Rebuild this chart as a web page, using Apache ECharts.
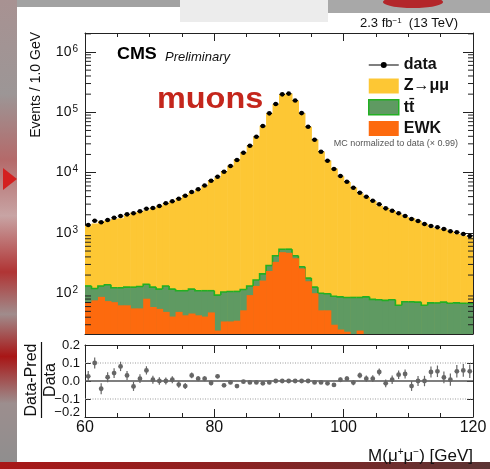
<!DOCTYPE html>
<html>
<head>
<meta charset="utf-8">
<script src="https://cdn.jsdelivr.net/npm/echarts@6/dist/echarts.min.js"></script>
<style>
  html, body { margin: 0; padding: 0; background: #fff; }
  #chart { width: 490px; height: 469px; }
</style>
</head>
<body>
<div id="chart"></div>
<script>
// Dimuon invariant mass spectrum, 1 GeV bins between 60 and 120 GeV
const binLow = [60,61,62,63,64,65,66,67,68,69,70,71,72,73,74,75,76,77,78,79,
                80,81,82,83,84,85,86,87,88,89,90,91,92,93,94,95,96,97,98,99,
                100,101,102,103,104,105,106,107,108,109,110,111,112,113,114,115,116,117,118,119];
const BIN_WIDTH = 1;

// observed events per bin
const dataCounts = [1352,1592,1500,1637,1786,1905,2032,2113,2280,2518,
                    2588,2793,3097,3342,3690,4140,4764,5284,6109,7345,
                    8551,10350,12850,16180,21380,27930,39360,59290,96160,137400,
                    198600,204200,156700,97050,57540,35080,22230,15740,11480,8790,
                    7063,5623,4645,3981,3420,2979,2553,2333,2113,1910,
                    1702,1578,1406,1300,1239,1161,1064,1023,959,889];

// simulated contributions (already scaled by the MC normalisation)
const zmumu = [1185,1313,1433,1465,1584,1628,1843,2050,2121,2228,
               2444,2676,2965,3202,3654,4146,4499,5105,5920,7316,
               8236,10490,12850,16530,21350,28020,39510,59850,96640,136980,
               198060,203660,156280,96780,57360,35240,22310,15850,11640,8640,
               6886,5589,4416,3842,3297,2752,2510,2239,1976,1764,
               1678,1507,1343,1166,1103,1067,989,899,834,773];
const ttbar = [63,44,45,64,52,60,63,70,73,60,
               67,62,83,76,61,67,71,67,69,62,
               69,71,73,72,63,39,34,47,54,86,
               58,69,37,18,20,26,48,46,59,62,
               62,70,61,87,79,78,76,78,63,72,
               72,71,63,69,69,71,68,69,68,68];
const ewk = [69,76,87,74,71,63,63,56,56,81,
             59,55,49,41,49,43,46,43,41,48,
             24,34,34,35,52,93,132,162,234,331,
             479,468,380,257,158,100,52,52,30,25,
             23,15,24,0,0,0,0,0,0,0,
             0,0,0,0,0,0,0,0,0,0];

// (Data - Pred) / Data and its uncertainty
const ratio = [0.026,0.100,-0.043,0.021,0.044,0.081,0.031,-0.030,0.013,0.059,
               0.007,0.000,0.000,0.007,-0.020,-0.028,0.031,0.013,0.013,-0.011,
               0.026,-0.024,-0.008,-0.028,-0.004,-0.008,-0.008,-0.013,-0.008,0.000,
               0.000,0.000,0.000,0.000,0.000,-0.008,-0.008,-0.013,-0.022,0.007,
               0.013,-0.009,0.031,0.013,0.013,0.050,-0.013,0.007,0.035,0.039,
               -0.028,0.000,0.000,0.050,0.054,0.020,0.007,0.054,0.059,0.054];
const ratioErr = [0.030,0.030,0.030,0.028,0.027,0.026,0.025,0.025,0.024,0.023,
                  0.022,0.021,0.020,0.019,0.018,0.017,0.016,0.015,0.014,0.012,
                  0.011,0.010,0.009,0.008,0.007,0.006,0.005,0.004,0.004,0.004,
                  0.003,0.003,0.003,0.004,0.004,0.005,0.006,0.008,0.010,0.012,
                  0.013,0.015,0.016,0.017,0.019,0.020,0.022,0.023,0.024,0.025,
                  0.027,0.028,0.029,0.031,0.032,0.033,0.034,0.035,0.036,0.038];
const ratioRefLines = [0.1, 0, -0.1];

const legendNames = ['data', 'Z\u2192\u03bc\u03bc', 'tt\u0304', 'EWK'];

const Y_MIN = 21.06;
const Y_MAX = 2.066e6;
const FONT = '"Liberation Sans", Arial, Helvetica, sans-serif';
const COLORS = { z: '#fdc734', tt: '#5f9a62', ttEdge: '#22b022', ewk: '#fd6a0e', ratio: '#666666' };

// cumulative stack tops: EWK, EWK + ttbar, EWK + ttbar + Z
const ewkTop = ewk.slice();
const ttTop = ewk.map((v, i) => v + ttbar[i]);
const zTop = ttTop.map((v, i) => v + zmumu[i]);

// log-axis minor tick positions (2..9 x 10^n)
const minorLogTicks = [];
for (let n = 1; n <= 6; n++) {
  for (let k = 2; k <= 9; k++) {
    const v = k * Math.pow(10, n);
    if (v > Y_MIN && v < Y_MAX) minorLogTicks.push(v);
  }
}

// stacked histogram layer: every layer is filled from the axis floor up to its cumulative top
function histLayer(name, tops, color, edgeColor, z) {
  return {
    name, type: 'custom', xAxisIndex: 0, yAxisIndex: 0, z, clip: true, silent: true,
    itemStyle: { color },
    data: binLow.map((x, i) => [x, x + BIN_WIDTH, tops[i], i > 0 ? tops[i - 1] : tops[i]]),
    encode: { x: [0, 1], y: 2 },
    renderItem(params, api) {
      const x0 = api.value(0), x1 = api.value(1), top = api.value(2), prev = api.value(3);
      if (!(top > Y_MIN)) return null;
      const a = api.coord([x0, top]);
      const b = api.coord([x1, Y_MIN]);
      const children = [{
        type: 'rect',
        shape: { x: a[0], y: a[1], width: b[0] - a[0] + 0.6, height: b[1] - a[1] },
        style: { fill: color }
      }];
      if (edgeColor) {
        const p = api.coord([x0, Math.max(prev, Y_MIN)]);
        children.push({
          type: 'polyline',
          shape: { points: [[a[0], p[1]], [a[0], a[1]], [b[0], a[1]]] },
          style: { stroke: edgeColor, lineWidth: 1.6, fill: null }
        });
      }
      return { type: 'group', children };
    }
  };
}

function powLabel(v) {
  const e = Math.log10(v);
  if (Math.abs(e - Math.round(e)) > 1e-6) return '';
  return '{b|10}{e|' + Math.round(e) + '}';
}

function ratioLabel(v) {
  const t = (v < -1e-9 ? '\u2212' : '') + Math.abs(v).toFixed(1);
  return Math.abs(v + 0.2) < 1e-6 ? '{low|' + t + '}' : '{n|' + t + '}';
}

const xAxisBase = (gridIndex, position, showLabels) => ({
  type: 'value', gridIndex, position, min: 60, max: 120, interval: 20,
  axisLine: { show: true, onZero: false, lineStyle: { color: '#222', width: 1 } },
  axisTick: { show: true, inside: true, length: 8, lineStyle: { color: '#222' } },
  minorTick: { show: true, splitNumber: 4, length: 4, lineStyle: { color: '#222' } },
  axisLabel: { show: showLabels, fontFamily: FONT, fontSize: 16, color: '#111', margin: 3 },
  splitLine: { show: false }
});

const chart = echarts.init(document.getElementById('chart'), null, { renderer: 'canvas', width: 490, height: 469 });

chart.setOption({
  animation: false,
  backgroundColor: '#ffffff',
  grid: [
    { left: 85, top: 33, width: 388, height: 301 },
    { left: 85, top: 345, width: 388, height: 72 }
  ],
  xAxis: [
    xAxisBase(0, 'bottom', false),
    xAxisBase(0, 'top', false),
    xAxisBase(1, 'bottom', true),
    xAxisBase(1, 'top', false)
  ],
  yAxis: [
    {
      type: 'log', logBase: 10, gridIndex: 0, position: 'left', min: Y_MIN, max: Y_MAX,
      axisLine: { show: true, lineStyle: { color: '#222' } },
      axisTick: { show: true, inside: true, length: 11, lineStyle: { color: '#222' } },
      axisLabel: {
        formatter: powLabel, margin: 7, showMinLabel: false, showMaxLabel: false,
        rich: {
          b: { fontFamily: FONT, fontSize: 14, color: '#111' },
          e: { fontFamily: FONT, fontSize: 10, color: '#111', verticalAlign: 'top', padding: [0, 0, 6, 1] }
        }
      },
      splitLine: { show: false }
    },
    {
      type: 'log', logBase: 10, gridIndex: 0, position: 'right', min: Y_MIN, max: Y_MAX,
      axisLine: { show: true, lineStyle: { color: '#222' } },
      axisTick: { show: true, inside: true, length: 10, lineStyle: { color: '#222' } },
      axisLabel: { show: false },
      splitLine: { show: false }
    },
    {
      type: 'value', gridIndex: 1, position: 'left', min: -0.2, max: 0.2, interval: 0.1,
      axisLine: { show: true, lineStyle: { color: '#222' } },
      axisTick: { show: true, inside: true, length: 6, lineStyle: { color: '#222' } },
      axisLabel: {
        formatter: ratioLabel, margin: 5,
        rich: {
          n: { fontFamily: FONT, fontSize: 13, color: '#111' },
          low: { fontFamily: FONT, fontSize: 13, color: '#111', padding: [0, 0, 10, 0] }
        }
      },
      splitLine: { show: false }
    },
    {
      type: 'value', gridIndex: 1, position: 'right', min: -0.2, max: 0.2, interval: 0.1,
      axisLine: { show: true, lineStyle: { color: '#222' } },
      axisTick: { show: true, inside: true, length: 6, lineStyle: { color: '#222' } },
      axisLabel: { show: false },
      splitLine: { show: false }
    }
  ],
  legend: {
    orient: 'vertical', left: 363, top: 52, itemWidth: 30, itemHeight: 15, itemGap: 5,
    selectedMode: false,
    textStyle: { fontFamily: FONT, fontSize: 16, fontWeight: 'bold', color: '#111' },
    data: [
      { name: legendNames[0], icon: 'path://M0,0H30V0.01H0Z M0,6.9H30V8.1H0Z M18,7.5A3,3 0 1 1 12,7.5A3,3 0 1 1 18,7.5Z M0,14.99H30V15H0Z' },
      { name: legendNames[1], icon: 'rect' },
      { name: legendNames[2], icon: 'rect', itemStyle: { borderColor: COLORS.ttEdge, borderWidth: 1.5 } },
      { name: legendNames[3], icon: 'rect' }
    ]
  },
  series: [
    histLayer(legendNames[1], zTop, COLORS.z, null, 1),
    histLayer(legendNames[2], ttTop, COLORS.tt, COLORS.ttEdge, 2),
    histLayer(legendNames[3], ewkTop, COLORS.ewk, null, 3),
    {
      // minor ticks of the logarithmic axis, on both vertical frame edges
      name: 'logMinorTicks', type: 'custom', xAxisIndex: 0, yAxisIndex: 0, z: 6, silent: true,
      data: minorLogTicks.map(v => [60, v]),
      encode: { x: 0, y: 1 },
      renderItem(params, api) {
        const v = api.value(1);
        const l = api.coord([60, v]), r = api.coord([120, v]);
        const st = { stroke: '#222', lineWidth: 1 };
        return { type: 'group', children: [
          { type: 'line', shape: { x1: l[0], y1: l[1], x2: l[0] + 6, y2: l[1] }, style: st },
          { type: 'line', shape: { x1: r[0], y1: r[1], x2: r[0] - 5, y2: r[1] }, style: st }
        ] };
      }
    },
    {
      name: legendNames[0], type: 'custom', xAxisIndex: 0, yAxisIndex: 0, z: 8, silent: true,
      itemStyle: { color: '#000' },
      data: binLow.map((x, i) => [x, x + BIN_WIDTH, dataCounts[i]]),
      encode: { x: [0, 1], y: 2 },
      renderItem(params, api) {
        const x0 = api.value(0), x1 = api.value(1), v = api.value(2);
        const a = api.coord([x0, v]), b = api.coord([x1, v]);
        const cx = (a[0] + b[0]) / 2;
        return { type: 'group', children: [
          { type: 'line', shape: { x1: a[0] + 0.5, y1: a[1], x2: b[0] - 0.5, y2: a[1] }, style: { stroke: '#000', lineWidth: 1.3 } },
          { type: 'circle', shape: { cx, cy: a[1], r: 2.3 }, style: { fill: '#000' } }
        ] };
      }
    },
    {
      name: 'ratioRef', type: 'custom', xAxisIndex: 2, yAxisIndex: 2, z: 3, silent: true,
      data: ratioRefLines.map(v => [60, v]),
      encode: { x: 0, y: 1 },
      renderItem(params, api) {
        const v = api.value(1);
        const l = api.coord([60, v]), r = api.coord([120, v]);
        const solid = Math.abs(v) < 1e-9;
        return {
          type: 'line', shape: { x1: l[0], y1: l[1], x2: r[0], y2: r[1] },
          style: solid ? { stroke: '#555', lineWidth: 1.6 } : { stroke: '#9a9a9a', lineWidth: 1, lineDash: [1, 1.5] }
        };
      }
    },
    {
      name: 'ratioPoints', type: 'custom', xAxisIndex: 2, yAxisIndex: 2, z: 8, clip: true, silent: true,
      data: binLow.map((x, i) => [x + BIN_WIDTH / 2, ratio[i], ratioErr[i]]),
      encode: { x: 0, y: 1 },
      renderItem(params, api) {
        const x = api.value(0), r = api.value(1), e = api.value(2);
        const c = api.coord([x, r]), t = api.coord([x, r + e]), b = api.coord([x, r - e]);
        return { type: 'group', children: [
          { type: 'line', shape: { x1: c[0], y1: t[1], x2: c[0], y2: b[1] }, style: { stroke: COLORS.ratio, lineWidth: 1.2 } },
          { type: 'circle', shape: { cx: c[0], cy: c[1], r: 2.4 }, style: { fill: COLORS.ratio } }
        ] };
      }
    }
  ],
  graphic: [
    // surrounding slide
    { type: 'rect', z: -10, shape: { x: 0, y: 0, width: 490, height: 7 }, style: { fill: '#a2a2a2' } },
    { type: 'rect', z: -9, shape: { x: 180, y: 0, width: 148, height: 22 }, style: { fill: '#ececec' } },
    { type: 'rect', z: -9, shape: { x: 328, y: 0, width: 162, height: 13 }, style: { fill: '#a8a8a8' } },
    { type: 'ellipse', z: -8, shape: { cx: 413, cy: 2, rx: 30, ry: 6 }, style: { fill: '#b3262a' } },
    { type: 'rect', z: -8, shape: { x: 0, y: 0, width: 17, height: 469 },
      style: { fill: { type: 'linear', x: 0, y: 0, x2: 0, y2: 1, colorStops: [
        { offset: 0, color: '#a89292' }, { offset: 0.2, color: '#9c9696' },
        { offset: 0.34, color: '#b46a6a' }, { offset: 0.46, color: '#c8a4a4' },
        { offset: 0.58, color: '#b03434' }, { offset: 0.67, color: '#a08c8c' },
        { offset: 0.76, color: '#a81616' }, { offset: 0.86, color: '#9c8e8e' },
        { offset: 1, color: '#8e8e8e' } ] } } },
    { type: 'polygon', z: -7, shape: { points: [[3, 168], [17, 179], [3, 190]] }, style: { fill: '#d42020' } },
    { type: 'rect', z: -8, shape: { x: 0, y: 462, width: 490, height: 7 },
      style: { fill: { type: 'linear', x: 0, y: 0, x2: 1, y2: 0, colorStops: [
        { offset: 0, color: '#a81818' }, { offset: 0.5, color: '#8a2222' }, { offset: 1, color: '#5c3434' } ] } } },

    // annotations
    { type: 'text', x: 458, y: 23, style: {
        text: '{n|2.3 fb}{s|\u22121}{n|  (13 TeV)}', align: 'right', verticalAlign: 'middle',
        rich: { n: { fontSize: 13, fontFamily: FONT, fill: '#111' },
                s: { fontSize: 8, fontFamily: FONT, fill: '#111', verticalAlign: 'top', padding: [0, 0, 5, 0] } } } },
    { type: 'text', x: 117, y: 55, scaleX: 1.12, style: { text: 'CMS', font: 'bold 16px ' + FONT, fill: '#000', verticalAlign: 'middle' } },
    { type: 'text', x: 165, y: 57, style: { text: 'Preliminary', font: 'italic 13px ' + FONT, fill: '#111', verticalAlign: 'middle' } },
    { type: 'text', x: 157, y: 100, scaleX: 1.08, style: { text: 'muons', font: 'bold 30px ' + FONT, fill: '#c4261c', verticalAlign: 'middle' } },
    { type: 'text', x: 458, y: 144, style: { text: 'MC normalized to data (\u00d7 0.99)', font: '9px ' + FONT, fill: '#555', align: 'right', verticalAlign: 'middle' } },
    { type: 'text', x: 36, y: 32, rotation: Math.PI / 2, style: { text: 'Events / 1.0 GeV', font: '14px ' + FONT, fill: '#111', align: 'right', verticalAlign: 'middle' } },
    { type: 'text', x: 32, y: 380, rotation: Math.PI / 2, style: { text: 'Data-Pred', font: '16px ' + FONT, fill: '#111', align: 'center', verticalAlign: 'middle' } },
    { type: 'line', shape: { x1: 41.5, y1: 342, x2: 41.5, y2: 418 }, style: { stroke: '#111', lineWidth: 1.2 } },
    { type: 'text', x: 51, y: 380, rotation: Math.PI / 2, style: { text: 'Data', font: '16px ' + FONT, fill: '#111', align: 'center', verticalAlign: 'middle' } },
    { type: 'text', x: 473, y: 456, style: {
        text: '{n|M(\u03bc}{s|+}{n|\u03bc}{s|\u2212}{n|) [GeV]}', align: 'right', verticalAlign: 'middle',
        rich: { n: { fontSize: 17, fontFamily: FONT, fill: '#111' },
                s: { fontSize: 10, fontFamily: FONT, fill: '#111', verticalAlign: 'top', padding: [0, 0, 5, 0] } } } }
  ]
});
</script>
</body>
</html>
